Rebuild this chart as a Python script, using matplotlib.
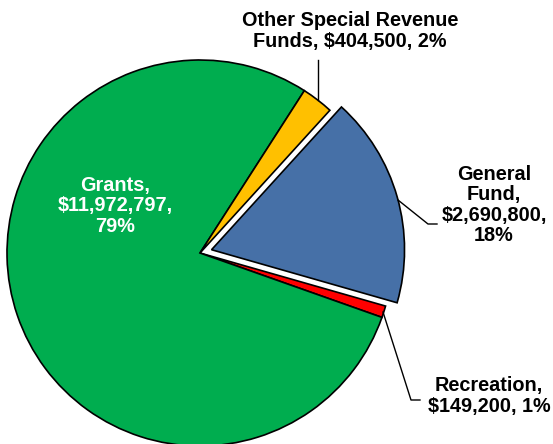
import matplotlib
matplotlib.use("Agg")
import matplotlib.pyplot as plt

names = ["General Fund", "Recreation", "Grants", "Other Special Revenue Funds"]
amounts = [2690800, 149200, 11972797, 404500]
percents = [18, 1, 79, 2]
colors = ["#4670A7", "#FF0000", "#00AD4F", "#FFC000"]

plt.rcParams['font.family'] = ['Liberation Sans', 'DejaVu Sans']

fig = plt.figure(figsize=(5.53, 4.44), dpi=100)
ax = fig.add_axes([0, 0, 1, 1])

# pie drawn in pixel-like coordinates (y up); explode is in data units here
ax.pie(amounts, colors=colors, startangle=47.7, counterclock=False,
       explode=[12, 0, 0, 0], center=(200, 191), radius=193,
       wedgeprops=dict(edgecolor="black", linewidth=1.2))
ax.set_xlim(0, 553)
ax.set_ylim(0, 444)
ax.set_aspect("equal")
ax.axis("off")

def money(v):
    return "${:,}".format(v)

fs = 14.3
# Grants label, inside slice
ax.text(115, 444 - 206, "Grants,\n{},\n{}%".format(money(amounts[2]), percents[2]),
        ha="center", va="center", color="white", fontsize=fs, fontweight="bold",
        linespacing=1.1)

# Other special revenue
ax.text(350, 444 - 31, "Other Special Revenue\nFunds, {}, {}%".format(money(amounts[3]), percents[3]),
        ha="center", va="center", fontsize=fs, fontweight="bold", linespacing=1.1)
ax.plot([318, 318], [444 - 60, 444 - 100], color="black", lw=1)

# General Fund
ax.text(494, 444 - 205, "General\nFund,\n{},\n{}%".format(money(amounts[0]), percents[0]),
        ha="center", va="center", fontsize=fs, fontweight="bold", linespacing=1.1)
ax.plot([398, 428, 437], [444 - 200, 444 - 224, 444 - 224], color="black", lw=1)

# Recreation
ax.text(489, 444 - 396, "Recreation,\n{}, {}%".format(money(amounts[1]), percents[1]),
        ha="center", va="center", fontsize=fs, fontweight="bold", linespacing=1.1)
ax.plot([383, 411, 420], [444 - 312, 444 - 400, 444 - 400], color="black", lw=1)

fig.savefig("out.png", dpi=100)
